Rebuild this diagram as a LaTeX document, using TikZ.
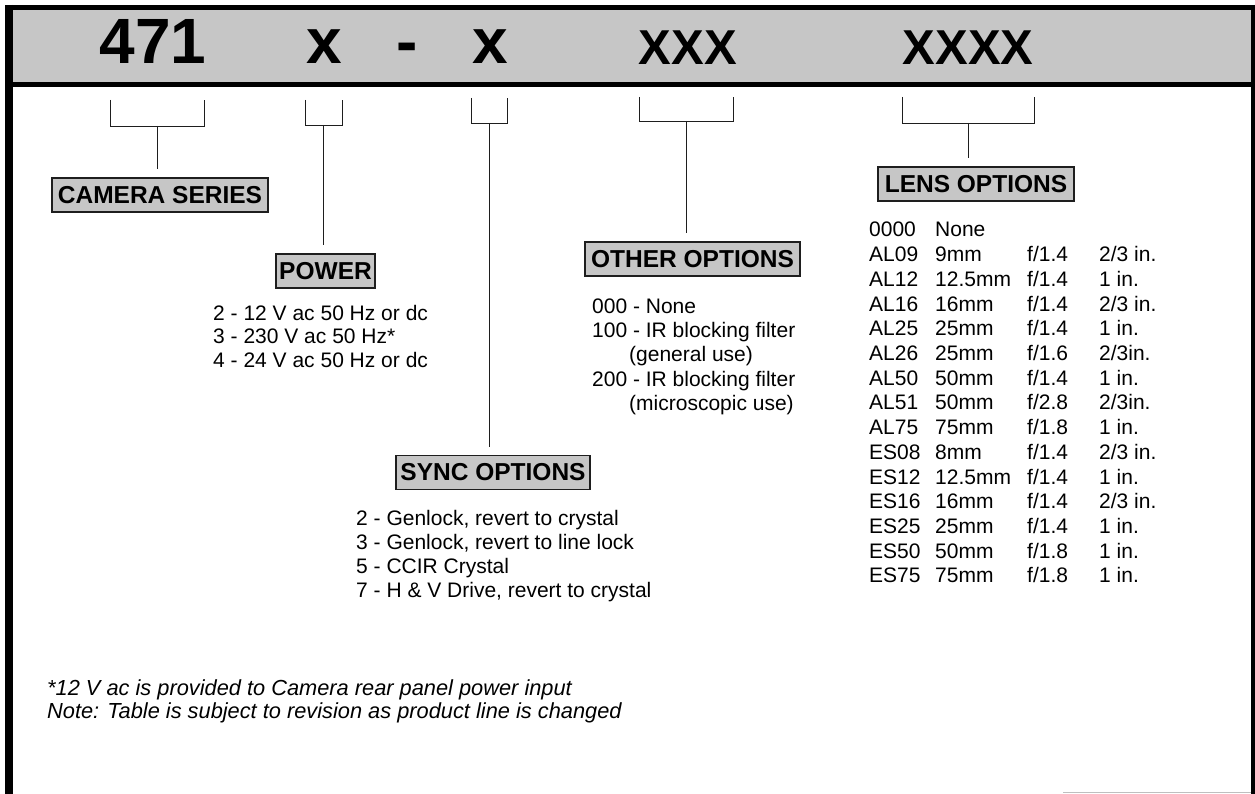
\documentclass[tikz,border=0pt]{standalone}
\usepackage{fontspec}
\setmainfont{Liberation Sans}
\usetikzlibrary{positioning, calc}
\definecolor{screen}{HTML}{C6C6C6}
\definecolor{rule}{HTML}{1E1E1E}

\tikzset{
  tag/.style={draw=rule, line width=1.2pt, fill=screen, inner sep=0pt, minimum height=34pt,
    font=\fontsize{24.5}{24.5}\selectfont\bfseries},
  code/.style={anchor=base, inner sep=0pt, font=\fontsize{64}{64}\selectfont\bfseries},
  bigcode/.style={anchor=base, inner sep=0pt, font=\fontsize{49}{49}\selectfont\bfseries},
  entry/.style={anchor=base west, inner sep=0pt, font=\fontsize{21}{24}\selectfont},
  brace/.style={line width=0.9pt, color=rule},
}

\begin{document}
\begin{tikzpicture}[x=1pt, y=-1pt]
    \useasboundingbox (0,0) rectangle (1255,794);
    % frame and header band
    \fill[screen] (9,7) rectangle (1251,85);
    \draw[line width=5pt] (5,7.5) -- (1255,7.5);
    \draw[line width=5pt] (5,84.5) -- (1251,84.5);
    \draw[line width=8pt] (9,5) -- (9,794);
    \draw[line width=4pt] (1253,5) -- (1253,794);
    \draw[gray!50, line width=1pt] (1063,792.5) -- (1251,792.5);

    % part number
    \node[code] (code471) at (153,64) {471};
    \node[code] (codepow) at (324,64) {x};
    \node[code] (codedash) at (407,64) {-};
    \node[code] (codesync) at (490,64) {x};
    \node[bigcode] (codeopt) at (688,65) {XXX};
    \node[bigcode] (codelens) at (968,65) {XXXX};

    % labels
    \node[tag, minimum width=216pt] (series) at (160,195) {CAMERA SERIES};
    \node[tag, minimum width=99pt] (power) at (325.5,271) {POWER};
    \node[tag, minimum width=194pt] (sync) at (493,472.5) {SYNC OPTIONS};
    \node[tag, minimum width=215pt] (other) at (692.5,259) {OTHER OPTIONS};
    \node[tag, minimum width=196pt] (lens) at (976,184) {LENS OPTIONS};

    % brackets
    \foreach \lx/\rx/\ty/\by/\lbl in {110/204/100/126/series, 305/342/100/125/power,
        471/507/98/123/sync, 639/733/97/121/other, 902/1034/97/123/lens} {
      \draw[brace] (\lx,\ty) |- (\rx,\by) -- (\rx,\ty);
      \coordinate (mid) at ({(\lx+\rx)/2},\by);
      \draw[brace, shorten >=8pt] (mid) -- (mid |- \lbl.north);
    }

    % power
    \foreach \txt [count=\i] in {2 - 12 V ac 50 Hz or dc, 3 - 230 V ac 50 Hz*, 4 - 24 V ac 50 Hz or dc}
      \node[entry] (pow\i) at (213,{296.5+23.5*\i}) {\txt};

    % other options
    \foreach \xx/\yy/\txt [count=\i] in {592/313/000 - None, 592/337/100 - IR blocking filter,
        629/361/(general use), 592/386/200 - IR blocking filter, 629/410/(microscopic use)}
      \node[entry] (opt\i) at (\xx,\yy) {\txt};

    % sync options
    \foreach \txt [count=\i] in {{2 - Genlock, revert to crystal}, {3 - Genlock, revert to line lock},
        5 - CCIR Crystal, {7 - H \& V Drive, revert to crystal}}
      \node[entry] (syn\i) at (356,{500.7+24.3*\i}) {\txt};

    % lens table
    \foreach \cd/\fl/\fn/\fm [count=\i] in {0000/None//, AL09/9mm/f\slash1.4/2\slash3 in., AL12/12.5mm/f\slash1.4/1 in.,
        AL16/16mm/f\slash1.4/2\slash3 in., AL25/25mm/f\slash1.4/1 in., AL26/25mm/f\slash1.6/2\slash3in.,
        AL50/50mm/f\slash1.4/1 in., AL51/50mm/f\slash2.8/2\slash3in., AL75/75mm/f\slash1.8/1 in.,
        ES08/8mm/f\slash1.4/2\slash3 in., ES12/12.5mm/f\slash1.4/1 in., ES16/16mm/f\slash1.4/2\slash3 in.,
        ES25/25mm/f\slash1.4/1 in., ES50/50mm/f\slash1.8/1 in., ES75/75mm/f\slash1.8/1 in.} {
      \node[entry] (lc\i) at (869,{212.3+24.7*\i}) {\cd};
      \node[entry] (lf\i) at (935,{212.3+24.7*\i}) {\fl};
      \node[entry] (ln\i) at (1027,{212.3+24.7*\i}) {\fn};
      \node[entry] (ls\i) at (1099,{212.3+24.7*\i}) {\fm};
    }

    % notes
    \node[entry, font=\fontsize{21.8}{24}\selectfont\itshape] (note1) at (47,695) {*12 V ac is provided to Camera rear panel power input};
    \node[entry, font=\fontsize{21.8}{24}\selectfont\itshape] (note2) at (47,718) {Note: Table is subject to revision as product line is changed};
\end{tikzpicture}
\end{document}
